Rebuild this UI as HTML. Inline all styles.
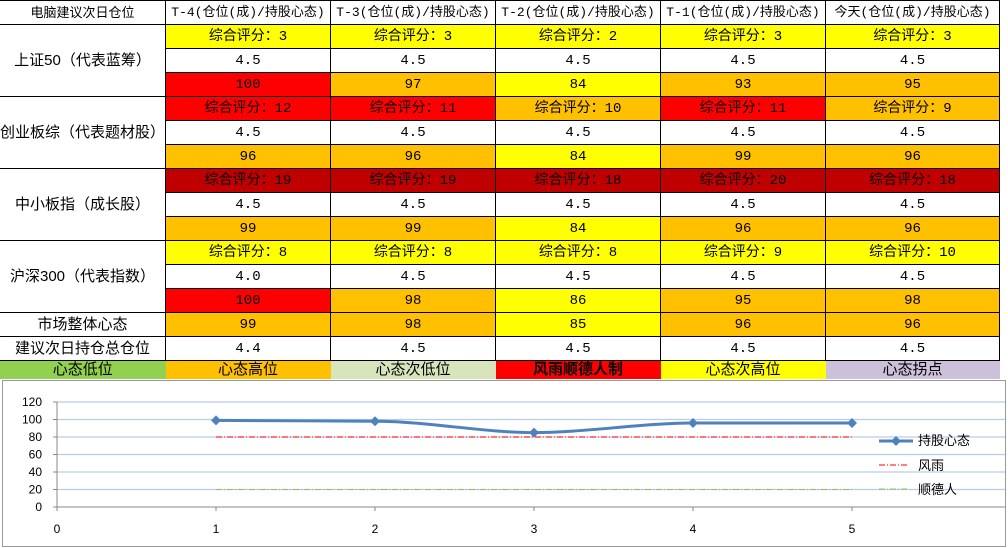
<!DOCTYPE html>
<html><head><meta charset="utf-8">
<style>
body{margin:0;width:1008px;height:548px;background:#fff;position:relative;overflow:hidden;font-family:"Liberation Mono","Noto Sans CJK SC",monospace;}
table{position:absolute;left:0;top:0;border-collapse:collapse;table-layout:fixed;font-size:14px;}
td{border:1.5px solid #000;height:23px;padding:0;text-align:center;white-space:nowrap;overflow:hidden;line-height:22px;}
td.l{font-family:"Liberation Sans","Noto Sans CJK SC",sans-serif;font-size:15px;border-left:none;}
.Y{background:#FFFF00}.O{background:#FFC000}.R{background:#FF0000}.D{background:#C00000}.W{background:#fff}
.leg td{border:none;height:18px;line-height:18px;font-family:"Liberation Sans","Noto Sans CJK SC",sans-serif;font-size:15px;}
.hd td{font-size:13px}
</style></head><body>
<table>
<colgroup><col style="width:164px"><col style="width:165px"><col style="width:165px"><col style="width:165px"><col style="width:165px"><col style="width:174px"></colgroup>
<tr class="hd"><td class="l">电脑建议次日仓位</td><td>T-4(仓位(成)/持股心态)</td><td>T-3(仓位(成)/持股心态)</td><td>T-2(仓位(成)/持股心态)</td><td>T-1(仓位(成)/持股心态)</td><td>今天(仓位(成)/持股心态)</td></tr>
<tr><td class="l" rowspan="3">上证50（代表蓝筹）</td><td class="Y">综合评分：3</td><td class="Y">综合评分：3</td><td class="Y">综合评分：2</td><td class="Y">综合评分：3</td><td class="Y">综合评分：3</td></tr>
<tr><td>4.5</td><td>4.5</td><td>4.5</td><td>4.5</td><td>4.5</td></tr>
<tr><td class="R">100</td><td class="O">97</td><td class="Y">84</td><td class="O">93</td><td class="O">95</td></tr>
<tr><td class="l" rowspan="3">创业板综（代表题材股）</td><td class="R">综合评分：12</td><td class="R">综合评分：11</td><td class="O">综合评分：10</td><td class="R">综合评分：11</td><td class="O">综合评分：9</td></tr>
<tr><td>4.5</td><td>4.5</td><td>4.5</td><td>4.5</td><td>4.5</td></tr>
<tr><td class="O">96</td><td class="O">96</td><td class="Y">84</td><td class="O">99</td><td class="O">96</td></tr>
<tr><td class="l" rowspan="3">中小板指（成长股）</td><td class="D">综合评分：19</td><td class="D">综合评分：19</td><td class="D">综合评分：18</td><td class="D">综合评分：20</td><td class="D">综合评分：18</td></tr>
<tr><td>4.5</td><td>4.5</td><td>4.5</td><td>4.5</td><td>4.5</td></tr>
<tr><td class="O">99</td><td class="O">99</td><td class="Y">84</td><td class="O">96</td><td class="O">96</td></tr>
<tr><td class="l" rowspan="3">沪深300（代表指数）</td><td class="Y">综合评分：8</td><td class="Y">综合评分：8</td><td class="Y">综合评分：8</td><td class="Y">综合评分：9</td><td class="Y">综合评分：10</td></tr>
<tr><td>4.0</td><td>4.5</td><td>4.5</td><td>4.5</td><td>4.5</td></tr>
<tr><td class="R">100</td><td class="O">98</td><td class="Y">86</td><td class="O">95</td><td class="O">98</td></tr>
<tr><td class="l">市场整体心态</td><td class="O">99</td><td class="O">98</td><td class="Y">85</td><td class="O">96</td><td class="O">96</td></tr>
<tr><td class="l">建议次日持仓总仓位</td><td>4.4</td><td>4.5</td><td>4.5</td><td>4.5</td><td>4.5</td></tr>
<tr class="leg"><td style="background:#92D050">心态低位</td><td style="background:#FFC000">心态高位</td><td style="background:#D8E4BC">心态次低位</td><td style="background:#FF0000;font-weight:bold">风雨顺德人制</td><td style="background:#FFFF00">心态次高位</td><td style="background:#CCC0DA">心态拐点</td></tr>
</table>

<svg id="chart" style="position:absolute;left:0;top:0" width="1008" height="548" font-family="Liberation Sans, sans-serif">
<rect x="2.5" y="380.5" width="1003" height="166" fill="#fff" stroke="#999"/>
<g id="grid"></g><g id="axes"></g><g id="series"></g>
<g font-family="Liberation Sans, Noto Sans CJK SC, sans-serif" font-size="13">
<line x1="879" y1="441" x2="913" y2="441" stroke="#4F81BD" stroke-width="3"/><path d="M896 436 L901 441 L896 446 L891 441Z" fill="#4F81BD"/>
<text x="918" y="445">持股心态</text>
<line x1="879" y1="465" x2="909" y2="465" stroke="#FF0000" stroke-dasharray="6,2,1,2"/>
<text x="918" y="470">风雨</text>
<line x1="879" y1="489" x2="909" y2="489" stroke="#9BBB59" stroke-dasharray="6,2,1,2"/>
<text x="918" y="494">顺德人</text>
</g>
</svg>
<script>
const categories=[1,2,3,4,5];
const sentiment=[99,98,85,96,96];
const fengyu=[80,80,80,80,80];
const shunde=[20,20,20,20,20];
const yTicks=[0,20,40,60,80,100,120];
const xTicks=[0,1,2,3,4,5];
const NS="http://www.w3.org/2000/svg";
const x=v=>57+v*159;
const y=v=>507-v*(105/120);
function mk(tag,attrs,parent){const e=document.createElementNS(NS,tag);for(const k in attrs)e.setAttribute(k,attrs[k]);parent.appendChild(e);return e;}
const grid=document.getElementById('grid'),axes=document.getElementById('axes'),ser=document.getElementById('series');
yTicks.forEach(t=>{
 if(t>0){const g=mk('line',{x1:57,x2:1005,y1:y(t),y2:y(t),stroke:'#B9CDE5','stroke-width':1.2},grid);
 
 }
 const tx=mk('text',{x:42,y:y(t)+4,'text-anchor':'end','font-size':12,fill:'#000'},axes);tx.textContent=t;
 
 
 mk('line',{x1:53,x2:57,y1:y(t),y2:y(t),stroke:'#888'},axes);
});
mk('line',{x1:57,x2:57,y1:y(120),y2:y(0),stroke:'#888'},axes);
mk('line',{x1:57,x2:1005,y1:y(0),y2:y(0),stroke:'#888'},axes);
xTicks.forEach(t=>{
 mk('line',{x1:x(t),x2:x(t),y1:y(0),y2:y(0)+4,stroke:'#888'},axes);
 const tx=mk('text',{x:x(t),y:533,'text-anchor':'middle','font-size':12},axes);tx.textContent=t;
 
 
});
function ref(arr,color,name){
 const l=mk('line',{x1:x(categories[0]),x2:x(categories[categories.length-1]),y1:y(arr[0]),y2:y(arr[arr.length-1]),stroke:color,'stroke-dasharray':'6,2,1,2','stroke-width':1},ser);
 
 
}
ref(fengyu,'#FF0000','fengyu-line');
ref(shunde,'#9BBB59','shunde-line');
let d='';
categories.forEach((c,i)=>{
 const px=x(c),py=y(sentiment[i]);
 if(i===0)d='M'+px+' '+py;else{const pp=x(categories[i-1]),pv=y(sentiment[i-1]);d+=' C'+(pp+50)+' '+pv+' '+(px-50)+' '+py+' '+px+' '+py;}
});
const p=mk('path',{d:d,fill:'none',stroke:'#4F81BD','stroke-width':3},ser);


categories.forEach((c,i)=>{
 const px=x(c),py=y(sentiment[i]);
 const m=mk('path',{d:`M${px} ${py-5} L${px+5} ${py} L${px} ${py+5} L${px-5} ${py}Z`,fill:'#4F81BD'},ser);
 
 
});
</script>
</body></html>
